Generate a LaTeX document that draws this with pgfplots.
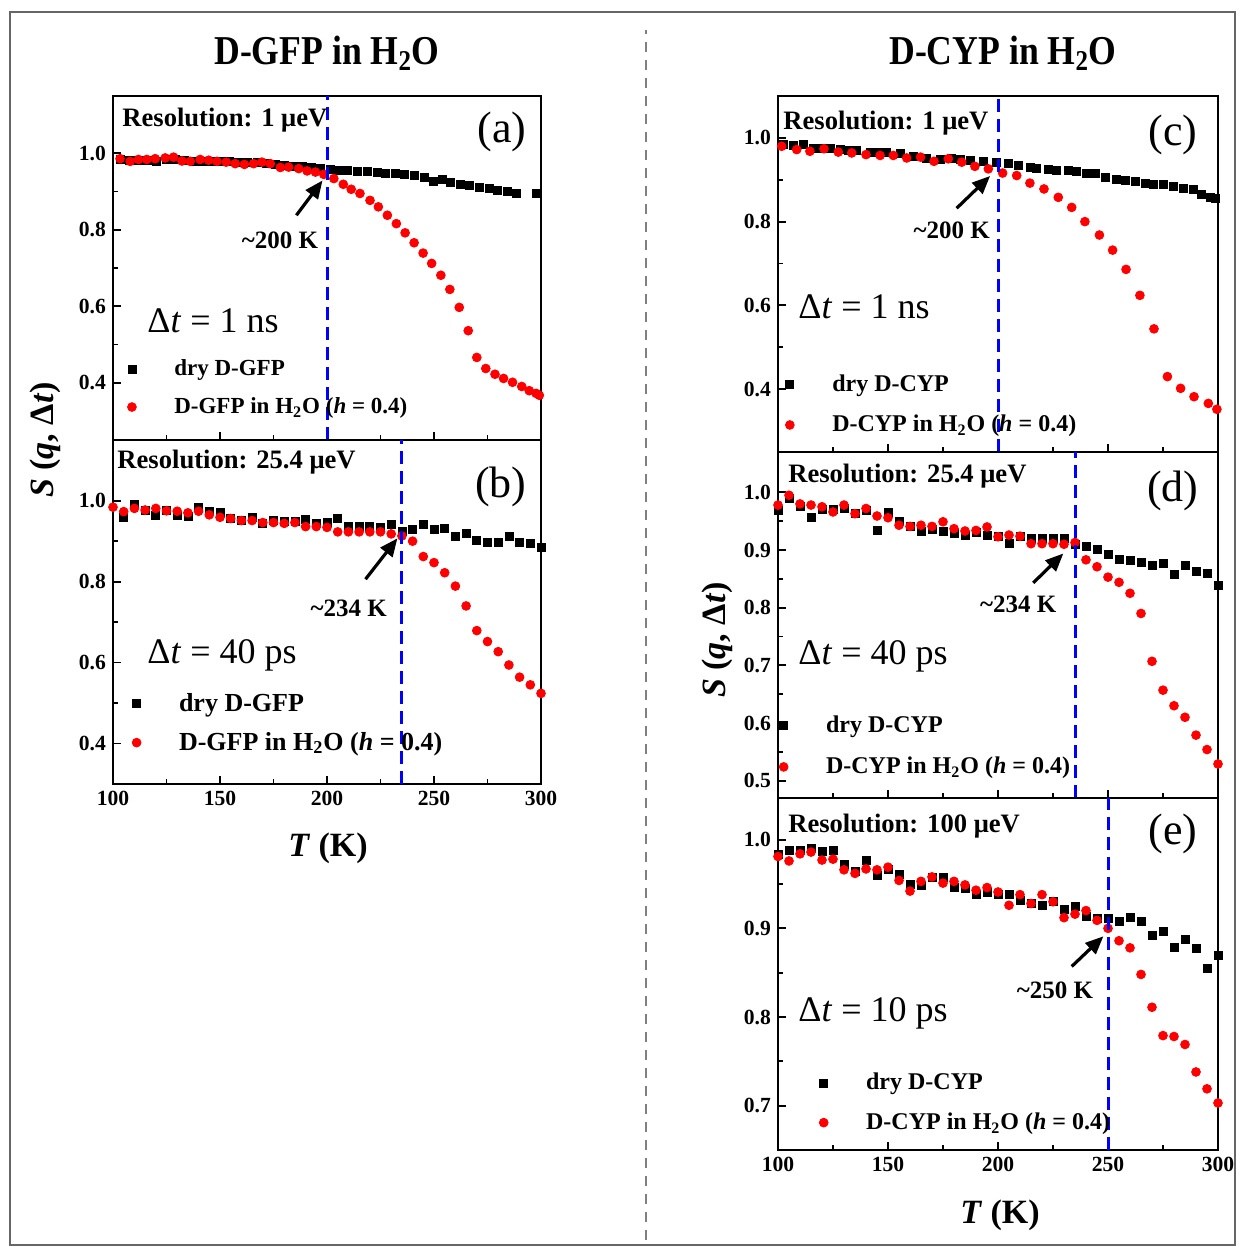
\documentclass[border=0pt]{standalone}
\usepackage{fontspec}
\setmainfont{Liberation Serif}
\usepackage{pgfplots}
\pgfplotsset{compat=1.18}
\usetikzlibrary{arrows.meta}

\pgfplotsset{
  panel/.style={
    scale only axis, anchor=south west, clip mode=individual,
    xmin=100, xmax=300, xtick={100,150,...,300}, minor x tick num=1,
    tick align=inside, tick pos=left,
    major tick length=4pt, minor tick length=2.5pt,
    axis line style={line width=1.3pt},
    every tick/.style={black, line width=0.9pt},
    tick label style={font=\bfseries\fontsize{10.8}{12}\selectfont},
    /pgf/number format/assume math mode=true,
    yticklabel style={/pgf/number format/fixed, /pgf/number format/fixed zerofill, /pgf/number format/precision=1},
    xticklabels={},
    legend cell align=left,
  },
  dry/.style={only marks, mark=square*, mark size=2pt, black,
    legend image code/.code={\draw[##1] plot coordinates {(0pt,0pt)};}},
  wet/.style={only marks, mark=*, mark size=2.2pt, red,
    legend image code/.code={\draw[##1] plot coordinates {(0pt,0pt)};}},
  leg/.style n args={3}{legend style={at={(#1)}, anchor=west, draw=none, fill=none,
    inner sep=0pt, column sep=19pt, row sep=#2, nodes={inner sep=0pt},
    font=\bfseries\fontsize{#3}{#3}\selectfont}},
}
\tikzset{
  vline/.style={blue, line width=1.5pt, dash pattern=on 6.5pt off 3.5pt},
  arr/.style={-{Triangle[length=9pt,width=7.5pt]}, line width=1.6pt},
  ann/.style={font=\bfseries\fontsize{12.5}{14}\selectfont},
  res/.style={anchor=west, inner sep=0pt, font=\bfseries\fontsize{13.3}{15}\selectfont},
  lab/.style={font=\fontsize{22}{26}\selectfont},
  dt/.style={anchor=west, inner sep=0pt, font=\fontsize{18}{21}\selectfont},
}

\begin{document}
\begin{tikzpicture}
\path (0pt,0pt) rectangle (618pt,624pt);
\draw[gray!80!black, line width=0.7pt] (5pt,1.5pt) rectangle (617.5pt,618pt);
\draw[gray, line width=0.7pt, dash pattern=on 5pt off 4pt] (323pt,4pt) -- (323pt,609pt);

\node[xscale=0.87, transform shape, font=\bfseries\fontsize{20.5}{24}\selectfont] at (163.5pt,597.5pt) {D-GFP in H\textsubscript{2}O};
\node[xscale=0.87, transform shape, font=\bfseries\fontsize{20.5}{24}\selectfont] at (501.5pt,597.5pt) {D-CYP in H\textsubscript{2}O};

\node[rotate=90, font=\bfseries\fontsize{17}{20}\selectfont] at (22.5pt,404pt) {\textit{S} (\textit{q}, Δ\textit{t})};
\node[rotate=90, font=\bfseries\fontsize{17}{20}\selectfont] at (358.5pt,304pt) {\textit{S} (\textit{q}, Δ\textit{t})};
\node[font=\bfseries\fontsize{17}{20}\selectfont] at (164pt,200pt) {\textit{T} (K)};
\node[font=\bfseries\fontsize{17}{20}\selectfont] at (500pt,16.5pt) {\textit{T} (K)};

% (a)
\begin{axis}[panel, at={(56.5pt,404pt)}, width=214pt, height=172pt,
  ymin=0.25, ymax=1.15, ytick={0.4,0.6,0.8,1.0}, minor y tick num=1,
  leg={0.033,0.151}{9.5pt}{11.5}]
\addplot[dry] coordinates {(103.5,0.984)(107.8,0.982)(112,0.982)(116.3,0.982)(120.5,0.979)(124.8,0.983)(129,0.983)(133.3,0.981)(137.5,0.980)(141.8,0.980)(146,0.979)(150.3,0.978)(154.5,0.978)(158.8,0.976)(163,0.975)(167.3,0.975)(171.5,0.974)(175.8,0.971)(180,0.969)(184.3,0.967)(188.5,0.965)(192.8,0.962)(197,0.960)(201.6,0.957)(205.5,0.956)(209.4,0.956)(214.1,0.954)(218.8,0.953)(223.5,0.951)(227.4,0.948)(232.1,0.947)(236,0.945)(240.7,0.943)(245.4,0.938)(249.5,0.926)(253.9,0.932)(257.8,0.923)(262.5,0.919)(266.4,0.917)(271.1,0.912)(275.8,0.908)(279.7,0.903)(284.4,0.901)(288.3,0.896)(297.7,0.895)};
\addlegendentry{dry D-GFP}
\addplot[wet] coordinates {(103.3,0.986)(108,0.979)(111.9,0.984)(115.8,0.984)(119.7,0.986)(124.4,0.988)(128.3,0.990)(132.2,0.980)(136.1,0.979)(140.7,0.984)(144.7,0.982)(148.6,0.979)(152.9,0.977)(157.1,0.973)(161.4,0.971)(165.7,0.973)(169.6,0.977)(173.5,0.973)(178.2,0.963)(182.1,0.964)(186.8,0.960)(190.7,0.954)(194.6,0.951)(198.5,0.945)(203.2,0.934)(207.6,0.919)(211.3,0.906)(215.4,0.895)(220.1,0.877)(224,0.860)(228.2,0.838)(232.4,0.816)(236.5,0.792)(240.7,0.766)(244.9,0.739)(248.9,0.712)(253.2,0.681)(257.4,0.644)(261.8,0.597)(266,0.536)(270,0.466)(274.2,0.437)(278.5,0.422)(282.5,0.411)(286.7,0.401)(291,0.390)(294.5,0.379)(297.7,0.372)(299.2,0.367)};
\addlegendentry{D-GFP in H\textsubscript{2}O (\textit{h} = 0.4)}
\draw[vline] (axis cs:200,0.25) -- (axis cs:200,1.15);
\draw[arr] (axis cs:185.7,0.838) -- (axis cs:197.9,0.929);
\node[ann] at (axis cs:178,0.772) {\textasciitilde200 K};
\node[res] at (axis cs:104.2,1.086) {Resolution: 1 μeV};
\node[lab] at (axis cs:281.7,1.055) {(a)};
\node[dt] at (axis cs:115.9,0.563) {Δ\textit{t} = 1 ns};
\end{axis}

% (b)
\begin{axis}[panel, at={(56.5pt,232pt)}, width=214pt, height=172pt,
  ymin=0.3, ymax=1.15, ytick={0.4,0.6,0.8,1.0}, minor y tick num=1,
  xticklabels={100,150,200,250,300},
  leg={0.044,0.177}{9pt}{13}]
\addplot[dry] coordinates {(105,0.959)(110,0.990)(115,0.975)(120,0.963)(125,0.975)(130,0.963)(135,0.960)(140,0.984)(145,0.973)(150,0.972)(155,0.956)(160,0.951)(165,0.958)(170,0.944)(175,0.952)(180,0.948)(185,0.950)(190,0.954)(195,0.944)(200,0.946)(205,0.956)(210,0.936)(215,0.937)(220,0.937)(225,0.934)(230,0.942)(235,0.924)(240,0.930)(245,0.942)(250,0.928)(255,0.932)(260,0.913)(265,0.919)(270,0.901)(275,0.898)(280,0.897)(285,0.913)(290,0.896)(295,0.895)(300,0.885)};
\addlegendentry{dry D-GFP}
\addplot[wet] coordinates {(100,0.984)(105,0.973)(110,0.981)(115,0.977)(120,0.981)(125,0.975)(130,0.974)(135,0.970)(140,0.974)(145,0.965)(150,0.959)(155,0.956)(160,0.951)(165,0.951)(170,0.946)(175,0.946)(180,0.944)(185,0.946)(190,0.936)(195,0.936)(200,0.934)(205,0.923)(210,0.923)(215,0.923)(220,0.923)(225,0.923)(230,0.918)(235,0.913)(240,0.900)(245,0.862)(250,0.847)(255,0.822)(260,0.789)(265,0.740)(270,0.679)(275,0.652)(280,0.627)(285,0.594)(290,0.564)(295,0.545)(300,0.524)};
\addlegendentry{D-GFP in H\textsubscript{2}O (\textit{h} = 0.4)}
\draw[vline] (axis cs:235,0.3) -- (axis cs:235,1.15);
\draw[arr] (axis cs:218,0.806) -- (axis cs:232.9,0.907);
\node[ann] at (axis cs:210.2,0.734) {\textasciitilde234 K};
\node[res] at (axis cs:101.9,1.096) {Resolution: 25.4 μeV};
\node[lab] at (axis cs:281.3,1.034) {(b)};
\node[dt] at (axis cs:115.9,0.619) {Δ\textit{t} = 40 ps};
\end{axis}

% (c)
\begin{axis}[panel, at={(389pt,398pt)}, width=220pt, height=178pt,
  ymin=0.25, ymax=1.1, ytick={0.4,0.6,0.8,1.0}, minor y tick num=1,
  leg={0.016,0.133}{10.5pt}{12}]
\addplot[dry] coordinates {(102.4,0.984)(107,0.982)(111.5,0.984)(116,0.976)(120,0.976)(124,0.974)(128.2,0.972)(132,0.971)(135.8,0.970)(141.8,0.966)(145.5,0.966)(149.4,0.966)(155.5,0.962)(161.5,0.956)(167.6,0.952)(173.6,0.948)(178.9,0.952)(183,0.948)(187.3,0.946)(193.3,0.944)(199.4,0.942)(204.7,0.938)(209.2,0.934)(214.5,0.930)(217.6,0.928)(222.9,0.924)(226.7,0.922)(232,0.922)(235.8,0.920)(240.3,0.916)(244.1,0.914)(248.6,0.906)(253.9,0.900)(257.7,0.898)(262.3,0.896)(266.8,0.892)(270.6,0.890)(275.2,0.888)(279.7,0.884)(284.2,0.880)(288.8,0.876)(292.6,0.866)(296.4,0.858)(298.6,0.856)};
\addlegendentry{dry D-CYP}
\addplot[wet] coordinates {(101.7,0.980)(108.5,0.972)(114.5,0.968)(120.9,0.974)(127.4,0.966)(133.5,0.964)(140,0.960)(146.4,0.958)(152.4,0.958)(158.5,0.952)(164.8,0.954)(170.9,0.944)(177.4,0.950)(183.5,0.942)(189.5,0.932)(195.6,0.926)(202.1,0.916)(208.5,0.910)(214.5,0.892)(220.9,0.878)(227.4,0.858)(233.5,0.834)(239.5,0.800)(246.1,0.768)(252.1,0.732)(258.2,0.686)(264.5,0.624)(270.9,0.544)(277,0.430)(283,0.402)(289.1,0.382)(295.6,0.366)(299.5,0.352)};
\addlegendentry{D-CYP in H\textsubscript{2}O (\textit{h} = 0.4)}
\draw[vline] (axis cs:200,0.25) -- (axis cs:200,1.1);
\draw[arr] (axis cs:181.2,0.832) -- (axis cs:196.4,0.909);
\node[ann] at (axis cs:179,0.780) {\textasciitilde200 K};
\node[res] at (axis cs:102.3,1.036) {Resolution: 1 μeV};
\node[lab] at (axis cs:279.5,1.007) {(c)};
\node[dt] at (axis cs:109.1,0.596) {Δ\textit{t} = 1 ns};
\end{axis}

% (d)
\begin{axis}[panel, at={(389pt,225pt)}, width=220pt, height=173pt,
  ymin=0.47, ymax=1.07, ytick={0.5,0.6,0.7,0.8,0.9,1.0}, minor y tick num=1,
  leg={0.002,0.150}{11pt}{12}]
\addplot[dry] coordinates {(100,0.968)(105,0.990)(110,0.975)(115,0.957)(120,0.970)(125,0.970)(130,0.972)(135,0.963)(140,0.969)(145,0.934)(150,0.966)(155,0.949)(160,0.941)(165,0.933)(170,0.936)(175,0.932)(180,0.929)(185,0.926)(190,0.930)(195,0.926)(200,0.924)(205,0.911)(210,0.923)(215,0.920)(220,0.920)(225,0.920)(230,0.920)(235,0.910)(240,0.906)(245,0.901)(250,0.893)(255,0.884)(260,0.882)(265,0.878)(270,0.874)(275,0.876)(280,0.857)(285,0.874)(290,0.863)(295,0.860)(300,0.838)};
\addlegendentry{dry D-CYP}
\addplot[wet] coordinates {(100,0.978)(105,0.995)(110,0.980)(115,0.978)(120,0.975)(125,0.966)(130,0.978)(135,0.963)(140,0.972)(145,0.959)(150,0.956)(155,0.943)(160,0.941)(165,0.943)(170,0.941)(175,0.949)(180,0.937)(185,0.933)(190,0.934)(195,0.940)(200,0.923)(205,0.926)(210,0.924)(215,0.911)(220,0.911)(225,0.911)(230,0.910)(235,0.913)(240,0.883)(245,0.871)(250,0.853)(255,0.844)(260,0.825)(265,0.790)(270,0.707)(275,0.657)(280,0.630)(285,0.610)(290,0.579)(295,0.554)(300,0.529)};
\addlegendentry{D-CYP in H\textsubscript{2}O (\textit{h} = 0.4)}
\draw[vline] (axis cs:235,0.47) -- (axis cs:235,1.07);
\draw[arr] (axis cs:216,0.843) -- (axis cs:229.7,0.894);
\node[ann] at (axis cs:209.2,0.805) {\textasciitilde234 K};
\node[res] at (axis cs:104.5,1.029) {Resolution: 25.4 μeV};
\node[lab] at (axis cs:279.5,1.003) {(d)};
\node[dt] at (axis cs:109.1,0.716) {Δ\textit{t} = 40 ps};
\end{axis}

% (e)
\begin{axis}[panel, at={(389pt,49pt)}, width=220pt, height=176pt,
  ymin=0.65, ymax=1.047, ytick={0.7,0.8,0.9,1.0}, minor y tick num=1,
  xticklabels={100,150,200,250,300},
  leg={0.093,0.134}{10pt}{12}]
\addplot[dry] coordinates {(100,0.983)(105,0.988)(110,0.988)(115,0.990)(120,0.987)(125,0.988)(130,0.972)(135,0.964)(140,0.977)(145,0.960)(150,0.966)(155,0.961)(160,0.949)(165,0.948)(170,0.957)(175,0.957)(180,0.946)(185,0.945)(190,0.938)(195,0.940)(200,0.938)(205,0.938)(210,0.932)(215,0.928)(220,0.926)(225,0.930)(230,0.921)(235,0.925)(240,0.914)(245,0.911)(250,0.911)(255,0.908)(260,0.912)(265,0.908)(270,0.892)(275,0.897)(280,0.878)(285,0.887)(290,0.877)(295,0.855)(300,0.870)};
\addlegendentry{dry D-CYP}
\addplot[wet] coordinates {(100,0.981)(105,0.976)(110,0.984)(115,0.986)(120,0.977)(125,0.978)(130,0.966)(135,0.962)(140,0.967)(145,0.966)(150,0.969)(155,0.954)(160,0.942)(165,0.953)(170,0.958)(175,0.951)(180,0.953)(185,0.949)(190,0.943)(195,0.946)(200,0.941)(205,0.926)(210,0.938)(215,0.928)(220,0.938)(225,0.930)(230,0.912)(235,0.916)(240,0.920)(245,0.909)(250,0.900)(255,0.886)(260,0.878)(265,0.848)(270,0.811)(275,0.779)(280,0.778)(285,0.769)(290,0.738)(295,0.719)(300,0.703)};
\addlegendentry{D-CYP in H\textsubscript{2}O (\textit{h} = 0.4)}
\draw[vline] (axis cs:250,0.65) -- (axis cs:250,1.047);
\draw[arr] (axis cs:233.5,0.857) -- (axis cs:247.9,0.891);
\node[ann] at (axis cs:225.9,0.830) {\textasciitilde250 K};
\node[res] at (axis cs:104.5,1.015) {Resolution: 100 μeV};
\node[lab] at (axis cs:279.5,1.006) {(e)};
\node[dt] at (axis cs:109.1,0.804) {Δ\textit{t} = 10 ps};
\end{axis}
\end{tikzpicture}
\end{document}
